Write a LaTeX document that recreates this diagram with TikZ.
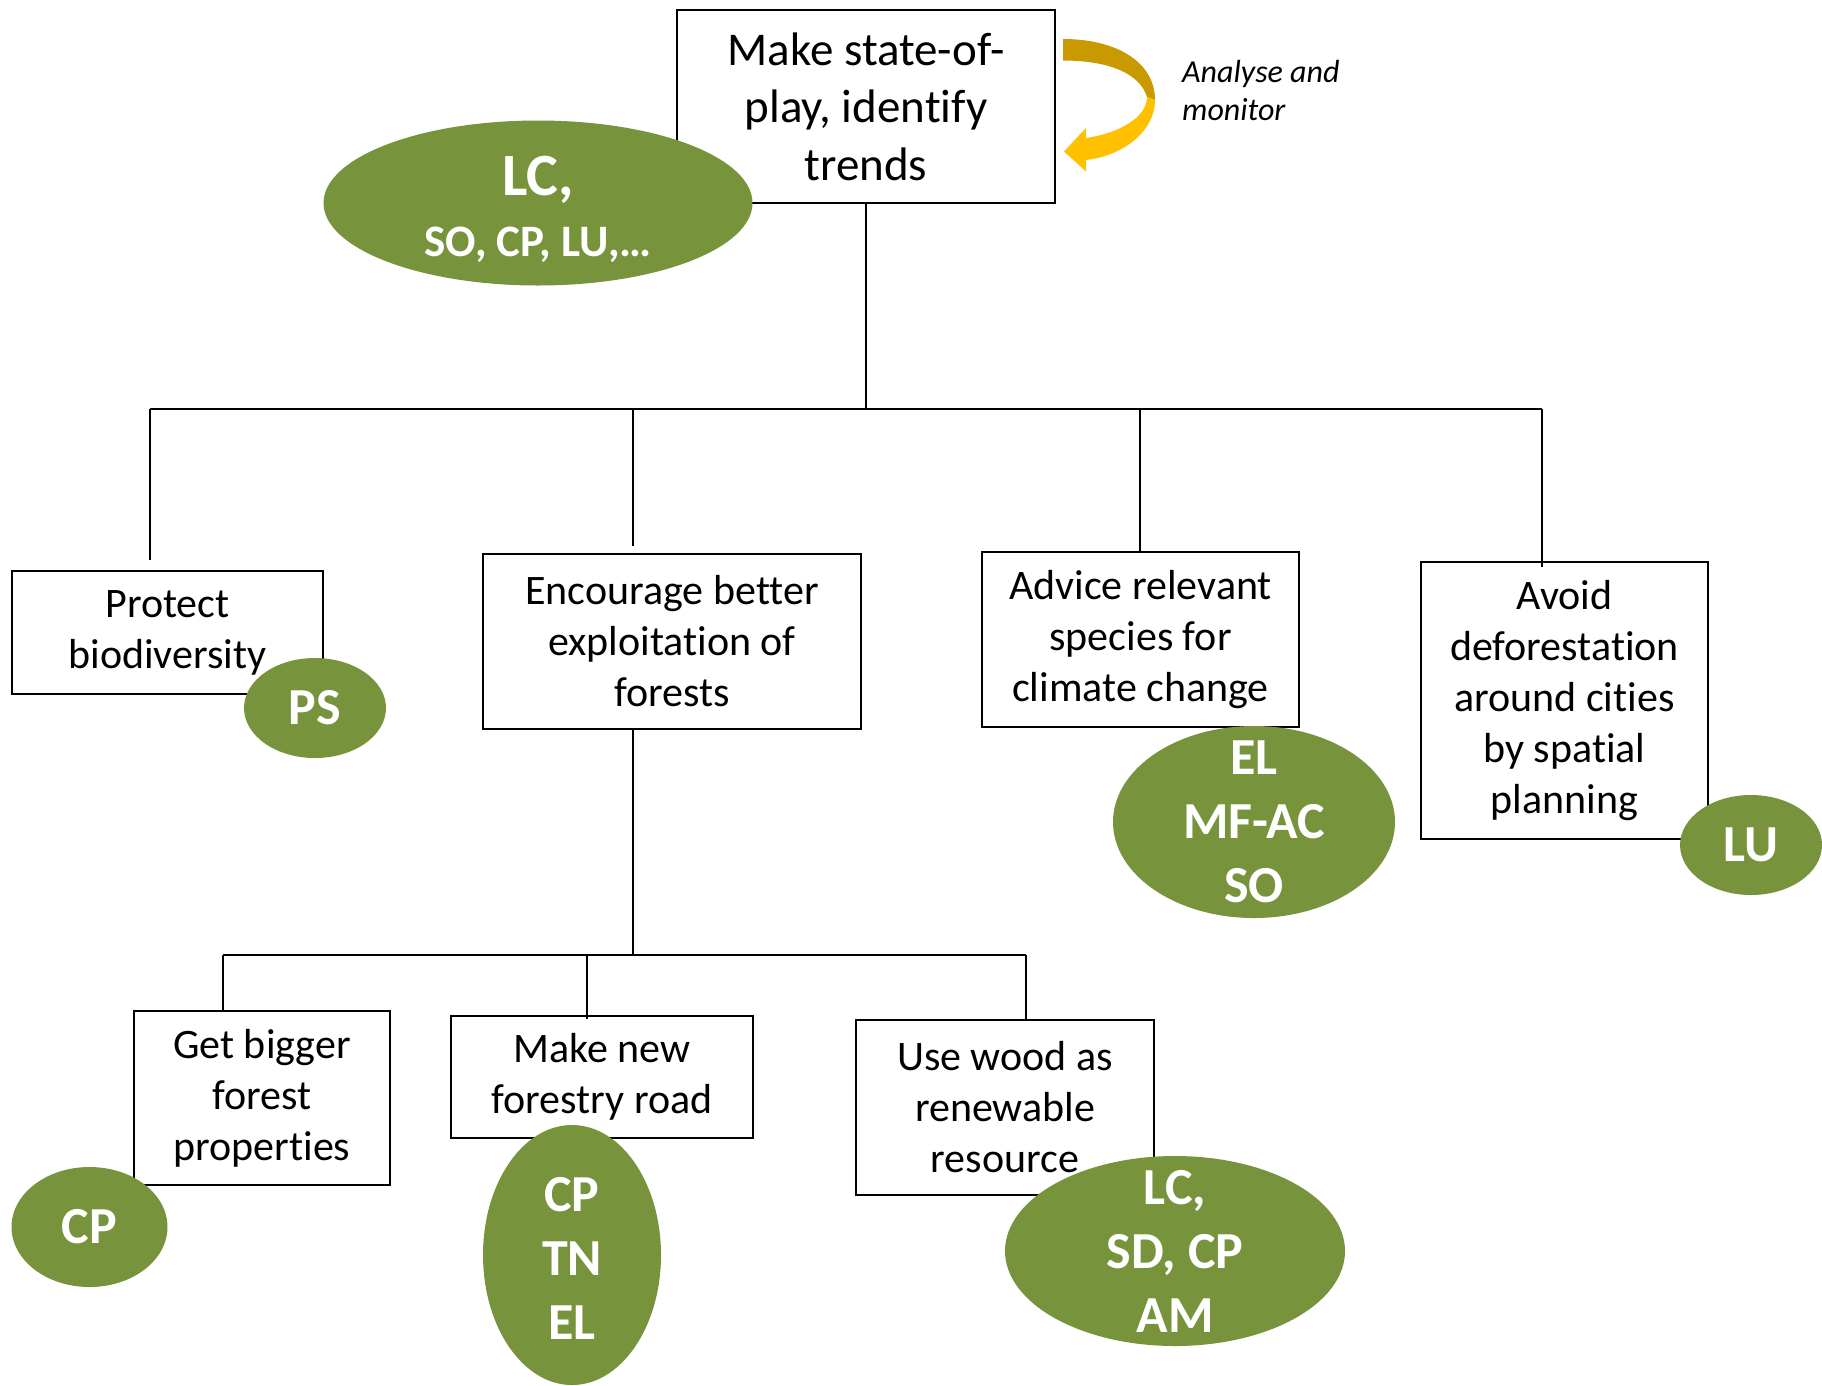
\documentclass[tikz,border=0pt]{standalone}
\usepackage{fontspec}
\setmainfont{Carlito}[Ligatures=NoCommon]
\usetikzlibrary{shapes.geometric}
\definecolor{olivegreen}{HTML}{77933C}
\definecolor{golddark}{HTML}{C99A00}
\definecolor{goldlight}{HTML}{FFC000}
\begin{document}
\begin{tikzpicture}[x=1pt,y=-1pt,
  box/.style={draw, line width=2pt, rectangle, inner sep=0pt, align=center,
    font=\fontsize{42}{51}\selectfont},
  gell/.style={ellipse, fill=olivegreen, inner sep=0pt},
  gtext/.style={text=white, align=center, inner sep=0pt,
    font=\fontsize{52}{64}\selectfont\bfseries},
  conn/.style={line width=2pt}]
\useasboundingbox (0,0) rectangle (1822,1385);

% boxes
\node[box, minimum width=378pt, minimum height=193pt, font=\fontsize{47}{57.5}\selectfont] (top) at (866,106.5) {Make state-of-\\play, identify\\trends};
\node[box, minimum width=311pt, minimum height=123pt] (prot) at (167.5,632.5) {Protect\\biodiversity};
\node[box, minimum width=378pt, minimum height=175pt] (enc) at (672,641.5) {Encourage better\\exploitation of\\forests};
\node[box, minimum width=317pt, minimum height=175pt] (adv) at (1140.5,639.5) {Advice relevant\\species for\\climate change};
\node[box, minimum width=287pt, minimum height=277pt] (avoid) at (1564.5,700.5) {Avoid\\deforestation\\around cities\\by spatial\\planning};
\node[box, minimum width=256pt, minimum height=174pt] (big) at (262,1098) {Get bigger\\forest\\properties};
\node[box, minimum width=302pt, minimum height=122pt] (road) at (602,1077) {Make new\\forestry road};
\node[box, minimum width=298pt, minimum height=175pt] (wood) at (1005,1107.5) {Use wood as\\renewable\\resource};

% connectors
\coordinate (b1L) at (150,409);
\coordinate (b1R) at (1542,409);
\coordinate (b1E) at (633,409);
\coordinate (b1A) at (1140,409);
\draw[conn] (top.south) -- (top.south |- b1L);
\draw[conn] (b1L) -- (b1R);
\draw[conn, shorten >=10pt] (b1L) -- (b1L |- prot.north);
\draw[conn, shorten >=7pt] (b1E) -- (b1E |- enc.north);
\draw[conn] (b1A) -- (b1A |- adv.north);
\draw[conn, shorten >=-6pt] (b1R) -- (b1R |- avoid.north);

\coordinate (b2L) at (223,955);
\coordinate (b2M) at (587,955);
\coordinate (b2R) at (1026,955);
\coordinate (b2E) at (633,955);
\draw[conn] (b2E |- enc.south) -- (b2E);
\draw[conn] (b2L) -- (b2R);
\draw[conn] (b2L) -- (b2L |- big.north);
\draw[conn, shorten >=-4pt] (b2M) -- (b2M |- road.north);
\draw[conn] (b2R) -- (b2R |- wood.north);

% curved arrow
\fill[golddark] (1063,39) .. controls (1118,39) and (1155,63) .. (1155,100)
  -- (1147,97) .. controls (1140,74) and (1110,60.5) .. (1063,60.5) -- cycle;
\fill[goldlight] (1155,100) .. controls (1155,132) and (1122,156) .. (1086,160)
  -- (1086,171.5) -- (1064,151.5) -- (1086,128) -- (1086,138)
  .. controls (1120,133) and (1147,117) .. (1147,97) -- cycle;
\node[font=\fontsize{32}{38}\selectfont\itshape, align=left, anchor=west, inner sep=0pt] (am) at (1182,91) {Analyse and\\monitor};

% ellipses
\node[gell, minimum width=429pt, minimum height=165pt] (e0) at (538,203) {};
\node[text=white, inner sep=0pt, anchor=base, font=\fontsize{60}{66}\selectfont\bfseries] (e0a) at (538,195) {LC,};
\node[text=white, inner sep=0pt, anchor=base, font=\fontsize{45}{54}\selectfont\bfseries] (e0b) at (538,256) {SO, CP, LU,…};
\node[gell, minimum width=142pt, minimum height=100pt] (eps) at (315,708) {};
\node[gtext] (epst) at (eps) {PS};
\node[gell, minimum width=282pt, minimum height=192pt] (eel) at (1254,822) {};
\node[gtext] (eelt) at (eel) {EL\\MF-AC\\SO};
\node[gell, minimum width=142pt, minimum height=100pt] (elu) at (1751,845) {};
\node[gtext] (elut) at (elu) {LU};
\node[gell, minimum width=156pt, minimum height=120pt] (ecp) at (89.5,1227) {};
\node[gtext] (ecpt) at (ecp) {CP};
\node[gell, minimum width=178pt, minimum height=260pt] (etn) at (572,1255) {};
\node[gtext] (etnt) at (572,1258) {CP\\TN\\EL};
\node[gell, minimum width=340pt, minimum height=190pt] (eam) at (1175,1251) {};
\node[gtext] (eamt) at (eam) {LC,\\SD, CP\\AM};
\end{tikzpicture}
\end{document}
